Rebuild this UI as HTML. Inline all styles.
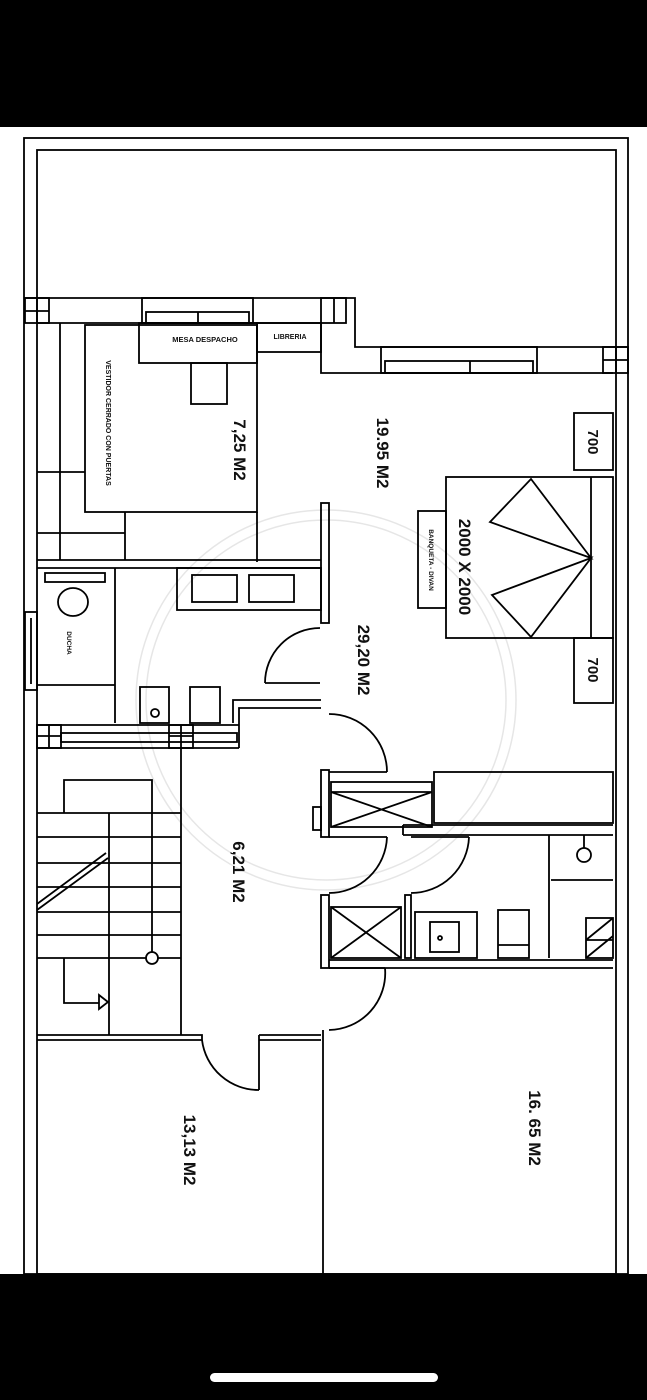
<!DOCTYPE html>
<html><head><meta charset="utf-8"><style>
html,body{margin:0;padding:0;background:#000;}
svg{display:block}
text{font-family:"Liberation Sans",Arial,sans-serif;font-weight:bold;fill:#111}
</style></head><body>
<svg width="647" height="1400" viewBox="0 0 647 1400" xmlns="http://www.w3.org/2000/svg">
<rect x="0" y="0" width="647" height="1400" fill="#000"/>
<rect x="0" y="127" width="647" height="1147" fill="#fff"/>
<rect x="210" y="1373" width="228" height="9" rx="4.5" fill="#fff"/>
<g fill="none" stroke="#e6e6e6" stroke-width="1.5">
<circle cx="326" cy="700" r="190"/><circle cx="326" cy="700" r="180"/>
</g>
<g fill="none" stroke="#000" stroke-width="1.8">
<rect x="24" y="138" width="604" height="1136"/>
<rect x="37" y="150" width="579" height="1124"/>
<path d="M24 298H355V347H628 M37 323H321V373H613"/>
<rect x="25" y="298" width="24" height="25"/><line x1="37" y1="298" x2="37" y2="323"/><line x1="25" y1="311" x2="49" y2="311"/>
<rect x="142" y="298" width="111" height="25"/><rect x="146" y="312" width="103" height="11"/><line x1="198" y1="312" x2="198" y2="323"/>
<rect x="321" y="298" width="25" height="25"/><line x1="334" y1="298" x2="334" y2="323"/>
<rect x="381" y="347" width="156" height="26"/><rect x="385" y="361" width="148" height="12"/><line x1="470" y1="361" x2="470" y2="373"/>
<rect x="603" y="347" width="25" height="26"/><line x1="616" y1="347" x2="616" y2="373"/><line x1="603" y1="360" x2="628" y2="360"/>
<rect x="139" y="323" width="118" height="40"/>
<rect x="257" y="323" width="64" height="29"/>
<rect x="191" y="363" width="36" height="41"/>
<line x1="60" y1="323" x2="60" y2="560"/>
<rect x="85" y="325" width="172" height="187"/>
<path d="M37 472H85 M125 512V560 M37 533H125 M257 512V562 M37 560H321"/>
<rect x="321" y="503" width="8" height="120"/>
<path d="M37 568H321 M115 568V723 M37 685H115"/>
<rect x="45" y="573" width="60" height="9"/>
<ellipse cx="73" cy="602" rx="15" ry="14"/>
<rect x="25" y="612" width="12" height="78"/><line x1="31" y1="618" x2="31" y2="684"/>
<rect x="177" y="568" width="144" height="42"/>
<rect x="192" y="575" width="45" height="27"/><rect x="249" y="575" width="45" height="27"/>
<rect x="140" y="687" width="29" height="36"/><circle cx="155" cy="713" r="4"/>
<rect x="190" y="687" width="30" height="36"/>
<path d="M233 723V700H321 M239 748V708H321"/>
<path d="M265 683H320 M265 683A55 55 0 0 1 320 628"/>
<path d="M37 725H239 M37 748H239"/>
<rect x="37" y="725" width="24" height="23"/><line x1="49" y1="725" x2="49" y2="748"/><line x1="37" y1="736" x2="61" y2="736"/>
<rect x="169" y="725" width="24" height="23"/><line x1="181" y1="725" x2="181" y2="748"/><line x1="169" y1="736" x2="193" y2="736"/>
<rect x="61" y="733" width="176" height="9"/>
<path d="M181 748V1035 M64 813V780H152V958 M109 813V1035"/>
<path d="M37 813H181 M37 837H181 M37 863H181 M37 887H181 M37 912H181 M37 935H181 M37 958H181"/>
<path d="M37 910L108 858 M37 904L106 853"/>
<circle cx="152" cy="958" r="6" fill="#fff"/>
<path d="M64 958V1003H99"/><path d="M99 995L108 1002L99 1009Z"/>
<path d="M37 1035H202V1040H37 M259 1035H321 M259 1040H321 M202 1035V1040 M259 1035V1090"/>
<path d="M202 1040A57 57 0 0 0 259 1090"/>
<line x1="323" y1="1030" x2="323" y2="1274"/>
<path d="M329 772H387 M387 772A58 58 0 0 0 329 714"/>
<path d="M329 837H387 M387 837A58 58 0 0 1 329 893"/>
<path d="M411 837H469 M469 837A58 58 0 0 1 411 893"/>
<path d="M329 968H385 M385 968A57 57 0 0 1 329 1030"/>
<rect x="321" y="770" width="8" height="67"/>
<rect x="321" y="895" width="8" height="73"/>
<rect x="313" y="807" width="8" height="23"/>
<rect x="434" y="772" width="179" height="51"/>
<rect x="331" y="782" width="101" height="45"/>
<path d="M331 792H432 M331 792L432 827 M432 792L331 827"/>
<path d="M403 825H613 M403 835H613 M403 825V835"/>
<path d="M329 960H613 M329 968H613"/>
<rect x="331" y="907" width="70" height="51"/><path d="M331 907L401 958 M401 907L331 958"/>
<rect x="405" y="895" width="6" height="63"/>
<rect x="415" y="912" width="62" height="46"/><rect x="430" y="922" width="29" height="30"/><circle cx="440" cy="938" r="2"/>
<rect x="498" y="910" width="31" height="48"/><line x1="498" y1="945" x2="529" y2="945"/>
<path d="M549 835V958 M551 880H613 M584 835V848"/>
<circle cx="584" cy="855" r="7"/>
<rect x="586" y="918" width="27" height="40"/><path d="M586 940L613 918 M586 958L613 936 M586 940H613"/>
<rect x="574" y="413" width="39" height="57"/>
<rect x="574" y="638" width="39" height="65"/>
<rect x="446" y="477" width="167" height="161"/>
<line x1="591" y1="477" x2="591" y2="638"/>
<path d="M591 558L531 479L490 522Z M591 558L492 595L531 637Z"/>
<rect x="418" y="511" width="28" height="97"/>
</g>
<g>
<text x="205" y="342" font-size="7.5" text-anchor="middle" font-weight="bold">MESA DESPACHO</text>
<text x="290" y="339" font-size="7" text-anchor="middle" font-weight="normal">LIBRERIA</text>
<text transform="translate(234,450) rotate(90)" font-size="17" text-anchor="middle">7,25 M2</text>
<text transform="translate(377,453) rotate(90)" font-size="17" text-anchor="middle">19.95 M2</text>
<text transform="translate(459,567) rotate(90)" font-size="17" text-anchor="middle">2000 X 2000</text>
<text transform="translate(429,560) rotate(90)" font-size="6.5" text-anchor="middle" font-weight="normal">BANQUETA - DIVAN</text>
<text transform="translate(358,660) rotate(90)" font-size="17" text-anchor="middle">29,20 M2</text>
<text transform="translate(106,423) rotate(90)" font-size="7" text-anchor="middle" font-weight="normal">VESTIDOR CERRADO CON PUERTAS</text>
<text transform="translate(67,643) rotate(90)" font-size="6.5" text-anchor="middle" font-weight="normal">DUCHA</text>
<text transform="translate(588,442) rotate(90)" font-size="15" text-anchor="middle">700</text>
<text transform="translate(588,670) rotate(90)" font-size="15" text-anchor="middle">700</text>
<text transform="translate(233,872) rotate(90)" font-size="17" text-anchor="middle">6,21 M2</text>
<text transform="translate(184,1150) rotate(90)" font-size="17" text-anchor="middle">13,13 M2</text>
<text transform="translate(529,1128) rotate(90)" font-size="17" text-anchor="middle">16. 65 M2</text>
</g>
</svg>
</body></html>
